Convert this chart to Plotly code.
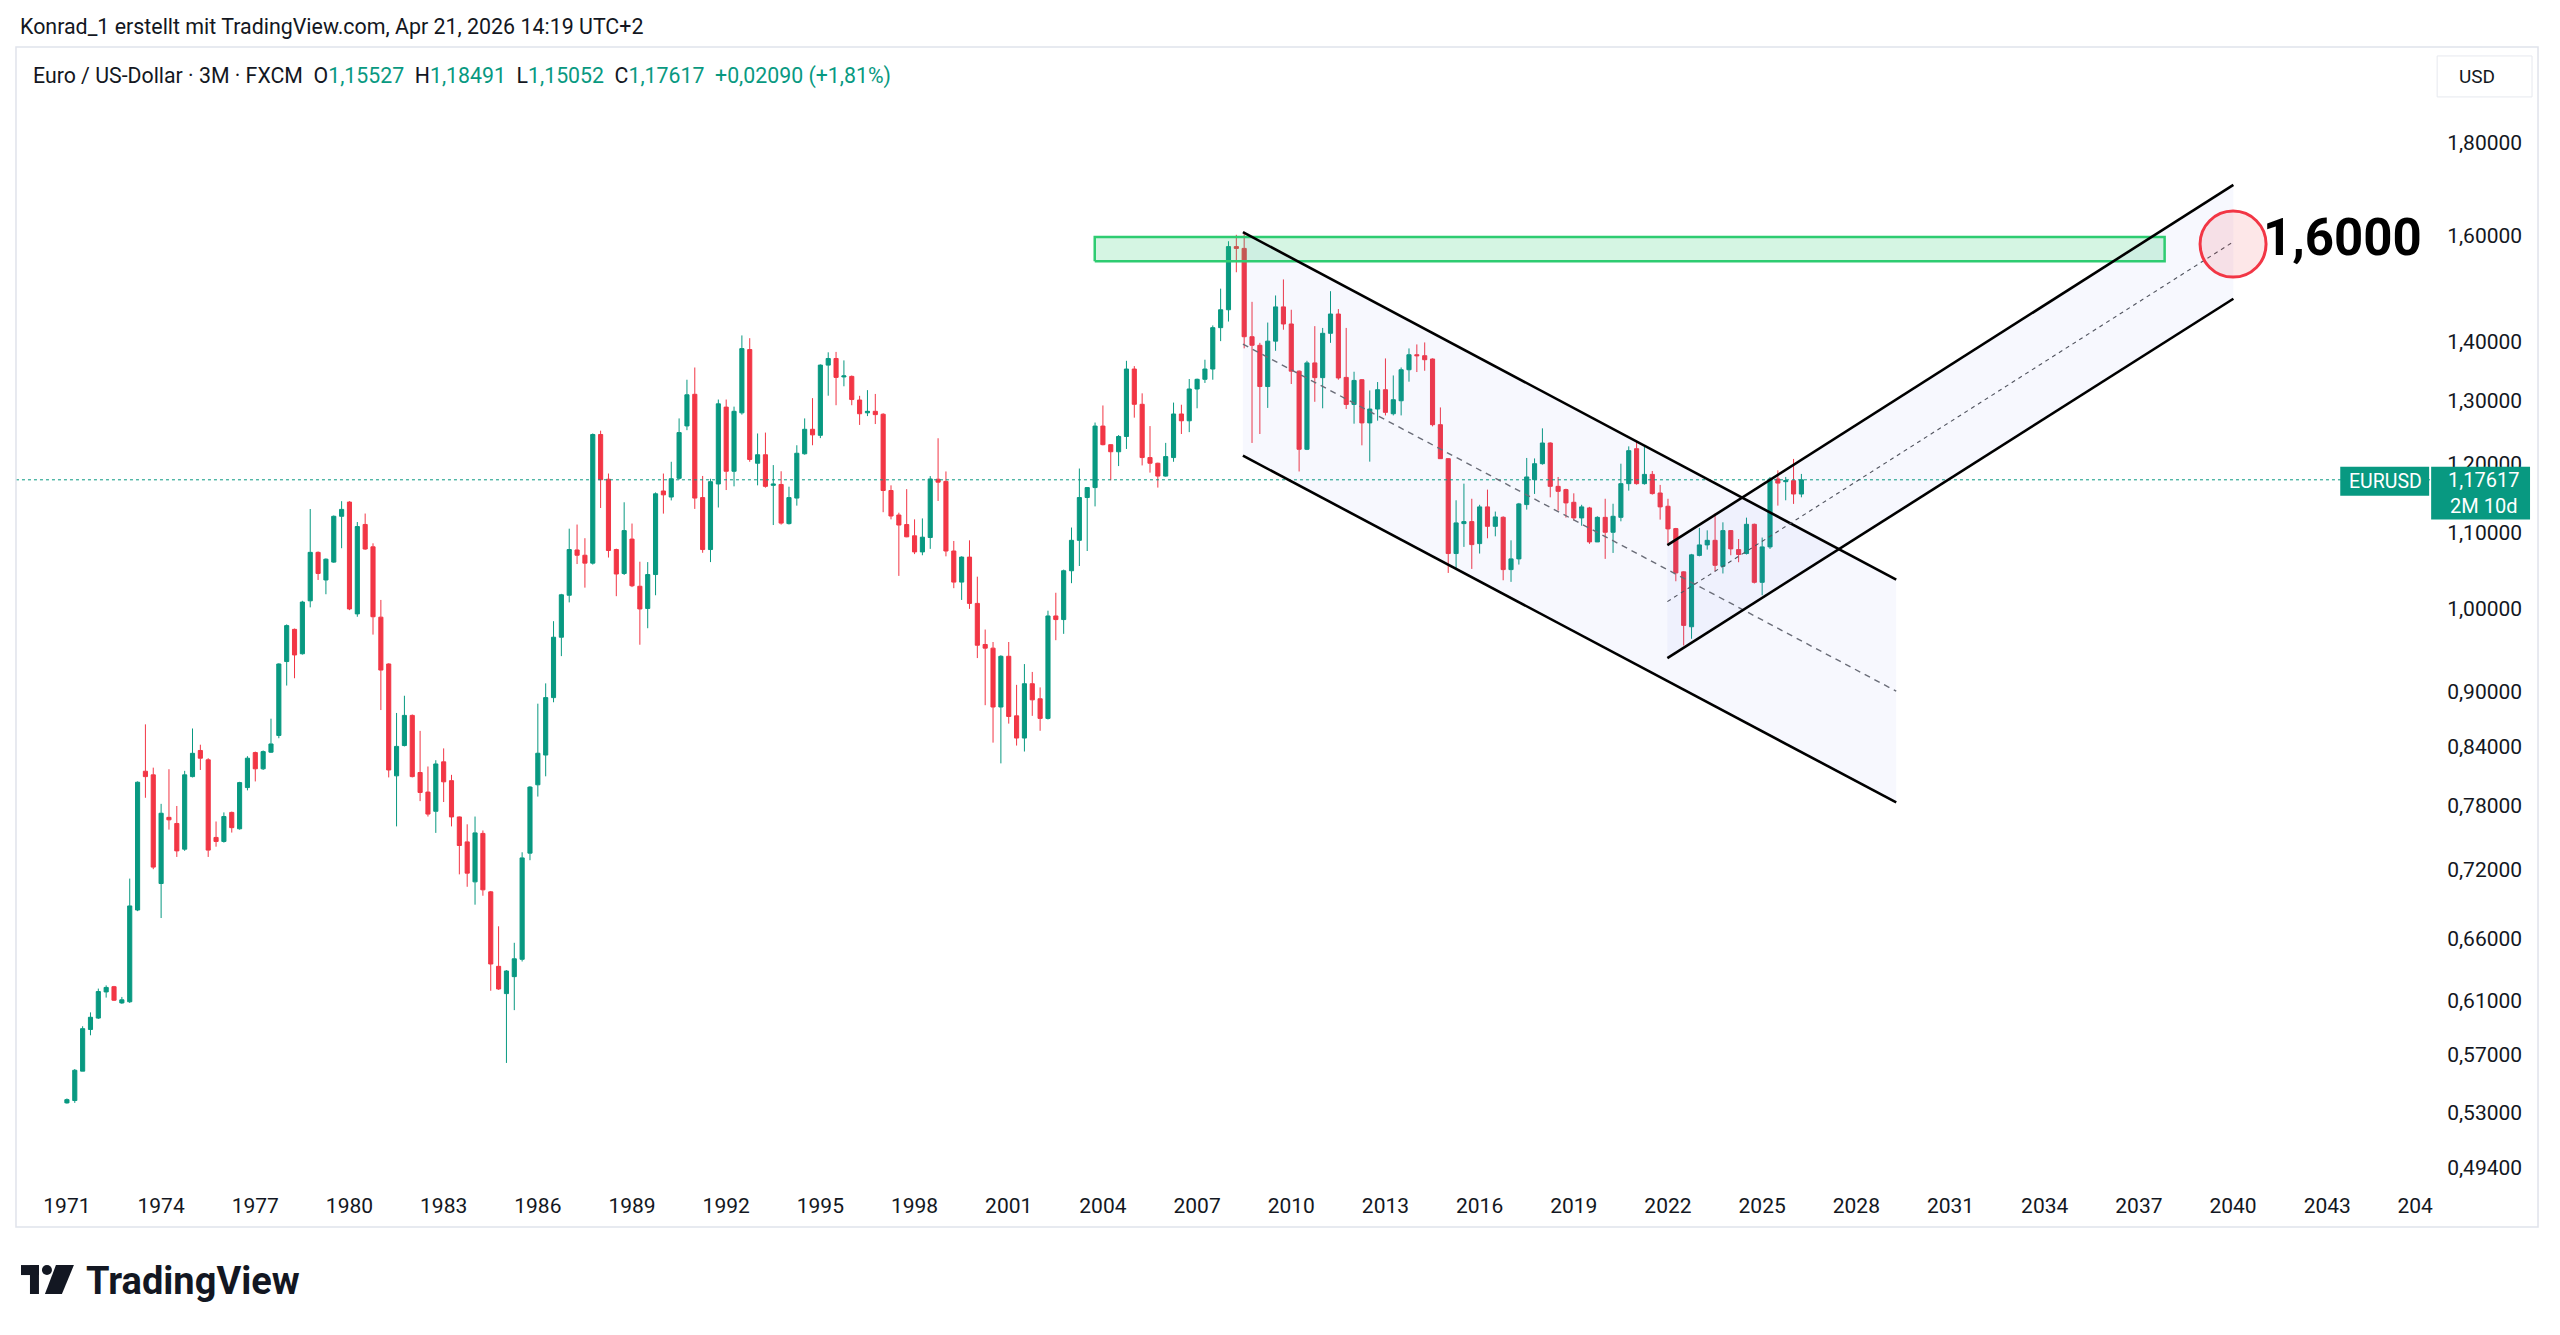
import plotly.graph_objects as go

W, H = 2560, 1335

# ---------------- data: EUR/USD quarterly candles (Q1 1971 ... Q2 2026) ----------------
start_year = 1971
opens = [
    0.5363, 0.5379, 0.5582, 0.5883, 0.5968, 0.6168, 0.6209, 0.6083, 0.6092, 0.6839,
    0.8146, 0.8109, 0.7071, 0.7686, 0.7627, 0.7384, 0.8091, 0.8362, 0.8264, 0.7494,
    0.7456, 0.7734, 0.7576, 0.7980, 0.8340, 0.8171, 0.8344, 0.8522, 0.9354, 0.9741,
    0.9446, 1.0098, 1.0734, 1.0367, 1.0603, 1.1233, 1.1436, 0.9933, 1.1118, 1.0809,
    0.9892, 0.9325, 0.8099, 0.8414, 0.8740, 0.8133, 0.7935, 0.7745, 0.8243, 0.8050,
    0.7690, 0.7452, 0.7086, 0.7532, 0.6997, 0.6370, 0.6155, 0.6288, 0.6427, 0.7347,
    0.8008, 0.8314, 0.8938, 0.9645, 1.0169, 1.0766, 1.0695, 1.0589, 1.2453, 1.1770,
    1.0772, 1.0452, 1.0915, 1.0285, 1.0001, 1.0438, 1.1597, 1.1509, 1.1784, 1.2588,
    1.3100, 1.1501, 1.0772, 1.1700, 1.2890, 1.1889, 1.2798, 1.3860, 1.2010, 1.2139,
    1.1680, 1.1693, 1.1130, 1.1494, 1.2154, 1.2535, 1.2440, 1.3591, 1.3705, 1.3390,
    1.3399, 1.3006, 1.2798, 1.2822, 1.2775, 1.1604, 1.1251, 1.1117, 1.0960, 1.0740,
    1.0937, 1.1770, 1.1738, 1.0752, 1.0339, 1.0670, 1.0065, 0.9557, 0.9513, 0.8833,
    0.9416, 0.8735, 0.8494, 0.9096, 0.8925, 0.8707, 0.9907, 0.9862, 1.0488, 1.0898,
    1.1502, 1.1647, 1.2586, 1.2294, 1.2185, 1.2422, 1.3524, 1.2936, 1.2096, 1.2010,
    1.1817, 1.2096, 1.2779, 1.2670, 1.3188, 1.3350, 1.3524, 1.4248, 1.4573, 1.5780,
    1.5745, 1.4086, 1.3935, 1.3229, 1.4008, 1.4626, 1.4314, 1.3488, 1.2223, 1.3629,
    1.3378, 1.4147, 1.4495, 1.3382, 1.2934, 1.3343, 1.2636, 1.2859, 1.3176, 1.2783,
    1.2994, 1.3512, 1.3770, 1.3753, 1.3696, 1.2608, 1.2079, 1.0718, 1.1130, 1.1158,
    1.0853, 1.1367, 1.1092, 1.1219, 1.0503, 1.0646, 1.1400, 1.1764, 1.2003, 1.2320,
    1.1665, 1.1617, 1.1433, 1.1210, 1.1352, 1.0876, 1.1218, 1.1009, 1.1218, 1.1705,
    1.2232, 1.1705, 1.1842, 1.1568, 1.1376, 1.1060, 1.0473, 0.9773, 1.0693, 1.0835,
    1.0898, 1.0546, 1.1032, 1.0771, 1.0718, 1.1120, 1.0336, 1.0808, 1.1774, 1.1734,
    1.1749, 1.15527,
]
highs = [
    0.5393, 0.5597, 0.5907, 0.6011, 0.6194, 0.6219, 0.6215, 0.6129, 0.7115, 0.8042,
    0.8642, 0.8183, 0.7818, 0.8167, 0.7797, 0.8150, 0.8597, 0.8423, 0.8281, 0.7646,
    0.7734, 0.7742, 0.8038, 0.8302, 0.8350, 0.8362, 0.8704, 0.9333, 0.9802, 0.9751,
    1.0098, 1.1337, 1.0746, 1.0652, 1.1245, 1.1449, 1.1449, 1.1152, 1.1272, 1.0857,
    1.0109, 0.9333, 0.8767, 0.8959, 0.8750, 0.8571, 0.8195, 0.8260, 0.8384, 0.8109,
    0.7694, 0.7619, 0.7694, 0.7560, 0.7005, 0.6700, 0.6340, 0.6562, 0.7355, 0.7994,
    0.8870, 0.9100, 0.9842, 1.0187, 1.1059, 1.1117, 1.0927, 1.2469, 1.2513, 1.1855,
    1.0784, 1.1433, 1.1131, 1.0608, 1.0603, 1.1576, 1.1855, 1.2032, 1.2708, 1.3343,
    1.3550, 1.1819, 1.1777, 1.3014, 1.3014, 1.2898, 1.4109, 1.4060, 1.2469, 1.2483,
    1.1982, 1.1889, 1.1660, 1.2285, 1.2708, 1.3037, 1.3603, 1.3812, 1.3819, 1.3672,
    1.3414, 1.3075, 1.3169, 1.3106, 1.2791, 1.1680, 1.1284, 1.1624, 1.1190, 1.1203,
    1.1817, 1.2394, 1.1886, 1.0889, 1.0680, 1.0898, 1.0410, 0.9739, 0.9587, 0.9428,
    0.9587, 0.9083, 0.9324, 0.9232, 0.9054, 0.9973, 1.0201, 1.0503, 1.1075, 1.1930,
    1.1653, 1.2642, 1.2917, 1.2300, 1.2444, 1.3665, 1.3574, 1.3116, 1.2586, 1.2018,
    1.2322, 1.2964, 1.2929, 1.3355, 1.3362, 1.3684, 1.4288, 1.4966, 1.5887, 1.6017,
    1.6045, 1.4719, 1.3978, 1.4340, 1.4838, 1.5141, 1.4573, 1.3500, 1.3665, 1.4275,
    1.4243, 1.4918, 1.4586, 1.4243, 1.3478, 1.3355, 1.3164, 1.3304, 1.3706, 1.3415,
    1.3551, 1.3880, 1.3950, 1.3985, 1.3706, 1.2885, 1.2085, 1.1462, 1.1705, 1.1484,
    1.1397, 1.1617, 1.1300, 1.1233, 1.0898, 1.1424, 1.2090, 1.2083, 1.2550, 1.2330,
    1.1804, 1.1630, 1.1563, 1.1397, 1.1367, 1.1233, 1.1484, 1.1412, 1.2003, 1.2268,
    1.2349, 1.2279, 1.1893, 1.1686, 1.1484, 1.1070, 1.0480, 1.0713, 1.1070, 1.1036,
    1.1271, 1.1148, 1.1040, 1.0916, 1.1214, 1.1130, 1.0936, 1.1804, 1.1903, 1.1804,
    1.2075, 1.18491,
]
lows = [
    0.5358, 0.5363, 0.5582, 0.5840, 0.5961, 0.6124, 0.6098, 0.6076, 0.6083, 0.6829,
    0.7878, 0.7200, 0.6770, 0.7568, 0.7312, 0.7368, 0.8083, 0.8159, 0.7312, 0.7407,
    0.7445, 0.7540, 0.7568, 0.7952, 0.8042, 0.8159, 0.8336, 0.8492, 0.9075, 0.9159,
    0.9436, 1.0015, 1.0367, 1.0182, 1.0593, 1.0790, 0.9980, 0.9897, 1.0769, 0.9677,
    0.8799, 0.8083, 0.7599, 0.8405, 0.8083, 0.7845, 0.7694, 0.7537, 0.7836, 0.7599,
    0.7153, 0.7042, 0.6885, 0.6963, 0.6177, 0.6184, 0.5640, 0.6028, 0.6409, 0.7282,
    0.7890, 0.8094, 0.8886, 0.9418, 1.0078, 1.0577, 1.0267, 1.0570, 1.1351, 1.0664,
    1.0157, 1.0432, 1.0274, 0.9554, 0.9755, 1.0169, 1.1271, 1.1460, 1.1764, 1.2521,
    1.1338, 1.0728, 1.0603, 1.1358, 1.1611, 1.1665, 1.2769, 1.2032, 1.1680, 1.1646,
    1.1110, 1.1116, 1.1117, 1.1385, 1.2140, 1.2285, 1.2396, 1.3077, 1.2921, 1.3233,
    1.2921, 1.2604, 1.2745, 1.2618, 1.1291, 1.1190, 1.0420, 1.0941, 1.0710, 1.0695,
    1.0781, 1.1452, 1.0680, 1.0260, 1.0109, 0.9996, 0.9395, 0.8853, 0.8445, 0.8227,
    0.8650, 0.8414, 0.8351, 0.8735, 0.8572, 0.8695, 0.9609, 0.9686, 1.0325, 1.0551,
    1.0752, 1.1374, 1.2284, 1.1754, 1.1967, 1.2228, 1.2720, 1.1977, 1.1869, 1.1647,
    1.1809, 1.2032, 1.2461, 1.2490, 1.2871, 1.3289, 1.3343, 1.4008, 1.4358, 1.5278,
    1.3881, 1.2321, 1.2461, 1.2877, 1.3838, 1.4211, 1.3271, 1.1886, 1.2211, 1.2977,
    1.2871, 1.3978, 1.3343, 1.2859, 1.2624, 1.2284, 1.2034, 1.2672, 1.2756, 1.2756,
    1.2756, 1.3310, 1.3473, 1.3495, 1.2581, 1.2075, 1.0459, 1.0516, 1.0808, 1.0512,
    1.0718, 1.0926, 1.0953, 1.0363, 1.0342, 1.0570, 1.1328, 1.1554, 1.1988, 1.1505,
    1.1314, 1.1214, 1.1176, 1.1100, 1.0850, 1.0875, 1.0646, 1.0726, 1.1162, 1.1602,
    1.1690, 1.1690, 1.1544, 1.1186, 1.0853, 1.0350, 0.9545, 0.9626, 1.0680, 1.0771,
    1.0481, 1.0452, 1.0695, 1.0601, 1.0705, 1.0321, 1.0169, 1.0781, 1.1385, 1.1462,
    1.1410, 1.15052,
]
closes = [
    0.5385, 0.5588, 0.5889, 0.5974, 0.6171, 0.6203, 0.6104, 0.6107, 0.6874, 0.8034,
    0.8091, 0.7219, 0.7726, 0.7662, 0.7368, 0.8109, 0.8332, 0.8281, 0.7375, 0.7456,
    0.7694, 0.7587, 0.8030, 0.8281, 0.8171, 0.8350, 0.8431, 0.9325, 0.9787, 0.9432,
    1.0082, 1.0734, 1.0452, 1.0642, 1.1233, 1.1331, 0.9995, 1.1089, 1.0779, 0.9897,
    0.9254, 0.8159, 0.8405, 0.8740, 0.8091, 0.7931, 0.7718, 0.8221, 0.8038, 0.7690,
    0.7418, 0.7164, 0.7537, 0.7015, 0.6389, 0.6191, 0.6333, 0.6431, 0.7303, 0.7985,
    0.8333, 0.8938, 0.9645, 1.0175, 1.0772, 1.0695, 1.0589, 1.2453, 1.1763, 1.0759,
    1.0445, 1.1032, 1.0291, 0.9995, 1.0438, 1.1556, 1.1541, 1.1777, 1.2483, 1.3092,
    1.1494, 1.0772, 1.1734, 1.2944, 1.1889, 1.2822, 1.3877, 1.2067, 1.2139, 1.1665,
    1.1700, 1.1137, 1.1501, 1.2162, 1.2535, 1.2447, 1.3591, 1.3705, 1.3382, 1.3407,
    1.3014, 1.2783, 1.2822, 1.2769, 1.1604, 1.1237, 1.1110, 1.0946, 1.0740, 1.0941,
    1.1774, 1.1727, 1.0752, 1.0339, 1.0670, 1.0065, 0.9548, 0.9513, 0.8833, 0.9416,
    0.8728, 0.8494, 0.9096, 0.8913, 0.8707, 0.9907, 0.9862, 1.0488, 1.0898, 1.1502,
    1.1647, 1.2586, 1.2294, 1.2185, 1.2422, 1.3524, 1.2936, 1.2096, 1.2010, 1.1817,
    1.2111, 1.2779, 1.2670, 1.3188, 1.3350, 1.3524, 1.4248, 1.4573, 1.5780, 1.5745,
    1.4086, 1.3935, 1.3229, 1.4008, 1.4626, 1.4314, 1.3488, 1.2223, 1.3629, 1.3378,
    1.4147, 1.4495, 1.3373, 1.2934, 1.3331, 1.2636, 1.2859, 1.3176, 1.2805, 1.3011,
    1.3512, 1.3770, 1.3753, 1.3684, 1.2608, 1.2079, 1.0718, 1.1140, 1.1158, 1.0839,
    1.1367, 1.1092, 1.1224, 1.0503, 1.0646, 1.1410, 1.1804, 1.2003, 1.2320, 1.1665,
    1.1592, 1.1424, 1.1210, 1.1367, 1.0876, 1.1218, 1.1009, 1.1233, 1.1705, 1.2202,
    1.1705, 1.1842, 1.1559, 1.1367, 1.1056, 1.0459, 0.9790, 1.0700, 1.0835, 1.0898,
    1.0560, 1.1032, 1.0781, 1.0705, 1.1120, 1.0336, 1.0808, 1.1774, 1.1713, 1.1749,
    1.1553, 1.17617,
]
quarters = [start_year + i / 4 for i in range(len(opens))]  # bar positions (fractional years)

last_price = 1.17617

year_ticks = list(range(1971, 2044, 3))
year_labels = [str(y) for y in year_ticks]
cut_tick, cut_label = 2045.8, "204"

price_ticks = [1.8, 1.6, 1.4, 1.3, 1.2, 1.1, 1.0, 0.9, 0.84, 0.78, 0.72, 0.66, 0.61, 0.57, 0.53, 0.494]
price_labels = ["1,80000", "1,60000", "1,40000", "1,30000", "1,20000", "1,10000", "1,00000",
                "0,90000", "0,84000", "0,78000", "0,72000", "0,66000", "0,61000", "0,57000",
                "0,53000", "0,49400"]

# drawings (anchor points: year, price)
zone_x = [2003.74, 2037.82]
zone_y = [1.5490, 1.5975]

desc_x = [2008.46, 2029.27]
desc_upper = [1.6071, 1.0372]
desc_mid = [1.3955, 0.9011]
desc_lower = [1.2125, 0.7832]

asc_x = [2021.98, 2040.01]
asc_upper = [1.0831, 1.7057]
asc_mid = [1.0088, 1.5876]
asc_lower = [0.9395, 1.4777]

target_x, target_y = 2040.0, 1.583
target_text = "1,6000"

# ---------------- styling ----------------
GREEN = "#089981"
RED = "#f23645"
TXT = "#131722"
FONT = "Roboto, 'Open Sans', sans-serif"


def px(x):
    return x / W


def py(y):
    return 1 - y / H


pane_l, pane_r, pane_t, pane_b = 16, 2433, 47, 1180
x_range = [1969.377, 2046.278]
y_range = [-0.31232, 0.30740]

fig = go.Figure()

chan_fill = "rgba(90,110,230,0.05)"
# channel backgrounds
fig.add_trace(go.Scatter(
    x=[desc_x[0], desc_x[1], desc_x[1], desc_x[0], desc_x[0]],
    y=[desc_upper[0], desc_upper[1], desc_lower[1], desc_lower[0], desc_upper[0]],
    mode="lines", fill="toself", fillcolor=chan_fill, line=dict(width=0), hoverinfo="skip"))
fig.add_trace(go.Scatter(
    x=[asc_x[0], asc_x[1], asc_x[1], asc_x[0], asc_x[0]],
    y=[asc_upper[0], asc_upper[1], asc_lower[1], asc_lower[0], asc_upper[0]],
    mode="lines", fill="toself", fillcolor=chan_fill, line=dict(width=0), hoverinfo="skip"))

# last price dotted line
fig.add_trace(go.Scatter(x=x_range, y=[last_price, last_price], mode="lines",
                         line=dict(color=GREEN, width=1, dash="dot"), hoverinfo="skip"))

fig.add_trace(go.Candlestick(
    x=quarters, open=opens, high=highs, low=lows, close=closes,
    increasing=dict(line=dict(color=GREEN, width=1), fillcolor=GREEN),
    decreasing=dict(line=dict(color=RED, width=1), fillcolor=RED),
    whiskerwidth=0, hoverinfo="skip"))

# resistance zone
fig.add_trace(go.Scatter(
    x=[zone_x[0], zone_x[1], zone_x[1], zone_x[0], zone_x[0]],
    y=[zone_y[0], zone_y[0], zone_y[1], zone_y[1], zone_y[0]],
    mode="lines", fill="toself", fillcolor="rgba(46,204,113,0.2)",
    line=dict(color="#2ecc71", width=2.5), hoverinfo="skip"))

# channel lines
for ys in (desc_upper, desc_lower):
    fig.add_trace(go.Scatter(x=desc_x, y=ys, mode="lines", line=dict(color="#000000", width=2.6),
                             hoverinfo="skip"))
fig.add_trace(go.Scatter(x=desc_x, y=desc_mid, mode="lines",
                         line=dict(color="#6a6d78", width=1.4, dash="6px,5px"), hoverinfo="skip"))
for ys in (asc_upper, asc_lower):
    fig.add_trace(go.Scatter(x=asc_x, y=ys, mode="lines", line=dict(color="#000000", width=2.6),
                             hoverinfo="skip"))
fig.add_trace(go.Scatter(x=asc_x, y=asc_mid, mode="lines",
                         line=dict(color="#50535e", width=1.1, dash="4px,4px"), hoverinfo="skip"))

# target circle
fig.add_trace(go.Scatter(x=[target_x], y=[target_y], mode="markers",
                         marker=dict(size=66, color="rgba(242,54,69,0.12)",
                                     line=dict(color=RED, width=3)), hoverinfo="skip"))

shapes = [
    # chart frame
    dict(type="rect", xref="paper", yref="paper", x0=px(16), x1=px(2541), y0=py(1228), y1=py(47),
         line=dict(color="#e0e3eb", width=1.5), fillcolor="rgba(0,0,0,0)", layer="above"),
    # USD box
    dict(type="rect", xref="paper", yref="paper", x0=px(2440), x1=px(2535), y0=py(97), y1=py(56),
         line=dict(color="#e6e8ee", width=1), fillcolor="white", layer="above"),
    # EURUSD label and price label
    dict(type="rect", xref="paper", yref="paper", x0=px(2343), x1=px(2432), y0=py(496), y1=py(467),
         line=dict(width=0), fillcolor=GREEN, layer="above"),
    dict(type="rect", xref="paper", yref="paper", x0=px(2434), x1=px(2533), y0=py(520), y1=py(467),
         line=dict(width=0), fillcolor=GREEN, layer="above"),
    # TradingView logo
    dict(type="rect", xref="paper", yref="paper", x0=px(21), x1=px(39), y0=py(1276), y1=py(1266),
         line=dict(width=0), fillcolor=TXT, layer="above"),
    dict(type="rect", xref="paper", yref="paper", x0=px(30), x1=px(39), y0=py(1295), y1=py(1266),
         line=dict(width=0), fillcolor=TXT, layer="above"),
    dict(type="circle", xref="paper", yref="paper", x0=px(42), x1=px(52), y0=py(1276), y1=py(1266),
         line=dict(width=0), fillcolor=TXT, layer="above"),
    dict(type="path", xref="paper", yref="paper",
         path=f"M {px(56)},{py(1266)} L {px(74)},{py(1266)} L {px(62)},{py(1295)} L {px(45)},{py(1295)} Z",
         line=dict(width=0), fillcolor=TXT, layer="above"),
]

teal_span = "<span style='color:#089981'>{}</span>"
nb = "\u00a0"
legend_text = ("Euro / US-Dollar · 3M · FXCM" + nb * 2 +
               "O" + teal_span.format("1,15527") + nb * 2 +
               "H" + teal_span.format("1,18491") + nb * 2 +
               "L" + teal_span.format("1,15052") + nb * 2 +
               "C" + teal_span.format("1,17617") + nb * 2 +
               teal_span.format("+0,02090 (+1,81%)"))

annotations = [
    dict(text="Konrad_1 erstellt mit TradingView.com, Apr 21, 2026 14:19 UTC+2",
         x=px(18), y=py(27), xref="paper", yref="paper", xanchor="left", yanchor="middle",
         showarrow=False, font=dict(size=21.4, color=TXT, family=FONT)),
    dict(text=legend_text, x=px(31), y=py(76), xref="paper", yref="paper",
         xanchor="left", yanchor="middle", showarrow=False, font=dict(size=21.3, color=TXT, family=FONT)),
    dict(text="USD", x=px(2480), y=py(77), xref="paper", yref="paper", xanchor="center",
         yanchor="middle", showarrow=False, font=dict(size=19, color=TXT, family=FONT)),
    dict(text="EURUSD", x=px(2388), y=py(482), xref="paper", yref="paper", xanchor="center",
         yanchor="middle", showarrow=False, font=dict(size=19.5, color="white", family=FONT)),
    dict(text="1,17617", x=px(2486), y=py(480), xref="paper", yref="paper", xanchor="center",
         yanchor="middle", showarrow=False, font=dict(size=20, color="white", family=FONT)),
    dict(text="2M 10d", x=px(2486), y=py(506), xref="paper", yref="paper", xanchor="center",
         yanchor="middle", showarrow=False, font=dict(size=20, color="white", family=FONT)),
    dict(text="<b>" + target_text + "</b>", x=px(2264), y=py(238), xref="paper", yref="paper",
         xanchor="left", yanchor="middle", showarrow=False,
         font=dict(size=51, color="#000000", family=FONT)),
    dict(text="<b>TradingView</b>", x=px(84), y=py(1282), xref="paper", yref="paper",
         xanchor="left", yanchor="middle", showarrow=False,
         font=dict(size=38, color=TXT, family=FONT)),
]

fig.update_layout(
    width=W, height=H, margin=dict(l=0, r=0, t=0, b=0, pad=0),
    paper_bgcolor="white", plot_bgcolor="white", showlegend=False, hovermode=False,
    boxgap=0.25,
    xaxis=dict(domain=[px(pane_l), px(pane_r)], range=x_range, type="linear",
               tickmode="array", tickvals=year_ticks + [cut_tick], ticktext=year_labels + [cut_label],
               showgrid=False, zeroline=False, showline=False, ticks="",
               tickfont=dict(size=21, color=TXT, family=FONT), ticklabelstandoff=12,
               rangeslider=dict(visible=False), fixedrange=True),
    yaxis=dict(domain=[py(pane_b), py(pane_t)], type="log", range=y_range, side="right",
               tickmode="array", tickvals=price_ticks, ticktext=price_labels,
               showgrid=False, zeroline=False, showline=False, ticks="",
               tickfont=dict(size=21, color=TXT, family=FONT), ticklabelstandoff=16,
               fixedrange=True),
    shapes=shapes,
    annotations=annotations,
)

fig.write_html("out.html")
